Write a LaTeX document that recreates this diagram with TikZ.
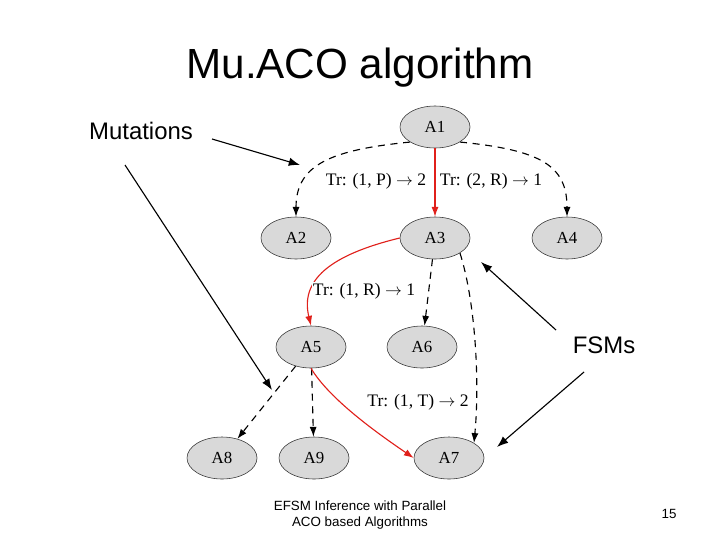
\documentclass[tikz,border=0pt]{standalone}
\usepackage{fontspec}
\setmainfont{Liberation Sans}
\newfontfamily\lserif{Liberation Serif}
\usetikzlibrary{shapes.geometric,arrows.meta}
\definecolor{ngray}{HTML}{D9D9D9}
\definecolor{nred}{HTML}{E0201B}
\begin{document}
\begin{tikzpicture}[x=0.025cm,y=-0.025cm,
  st/.style={ellipse,draw=black!80,fill=ngray,minimum width=1.75cm,minimum height=1.05cm,font=\lserif\fontsize{12}{14}\selectfont},
  e/.style={-{Latex[length=7pt,width=5pt]},thick,dashed,dash pattern=on 5pt off 4pt},
  r/.style={-{Latex[length=7pt,width=5pt]},thick,nred},
  lab/.style={font=\lserif\fontsize{12.5}{14}\selectfont,fill=white,inner sep=1pt},
  pt/.style={-{Latex[length=8pt,width=6pt]},thick}]
\useasboundingbox (0,0) rectangle (720,540);
\node (A1) at (435,127) [st] {A1};
\node (A2) at (296,238) [st] {A2};
\node (A3) at (435,238) [st] {A3};
\node (A4) at (567,238) [st] {A4};
\node (A5) at (311,347) [st] {A5};
\node (A6) at (422,347) [st] {A6};
\node (A7) at (449,458) [st] {A7};
\node (A8) at (222,458) [st] {A8};
\node (A9) at (314,458) [st] {A9};
\draw[e] (A1.south west) .. controls (330,150) and (296,165) .. (A2.north);
\draw[e] (A1.south east) .. controls (540,150) and (567,165) .. (A4.north);
\node[lab] (l1) at (376,181) {Tr: (1, P) $\rightarrow$ 2};
\node[lab] (l2) at (491,181) {Tr: (2, R) $\rightarrow$ 1};
\draw[r] (A1) -- (A3);
\draw[r] (A3.west) .. controls (330,255) and (300,280) .. (A5.north);
\node[lab] (l3) at (364,291) {Tr: (1, R) $\rightarrow$ 1};
\draw[e] (A3) -- (A6);
\draw[e] (A3.south east) .. controls (475,300) and (480,380) .. (A7.north east);
\draw[e] (A5) -- (A8);
\draw[e] (A5) -- (A9);
\draw[r] (A5.south) .. controls (330,400) and (380,435) .. (A7.west);
\node[lab,fill=none] (l4) at (418,402) {Tr: (1, T) $\rightarrow$ 2};
\node (T) at (360,68) {\fontsize{30}{34}\selectfont Mu.ACO algorithm};
\node (M) at (141,131) {\fontsize{17}{20}\selectfont Mutations};
\node (F) at (604,345) {\fontsize{17}{20}\selectfont FSMs};
\coordinate (m0) at (212,139);
\coordinate (m1) at (300,165);
\coordinate (m2) at (272,390);
\coordinate (f1) at (481,262);
\coordinate (f2) at (497,447);
\draw[pt] (m0) -- (m1);
\draw[pt] (125,165) -- (m2);
\draw[pt] (556,330) -- (f1);
\draw[pt] (584,372) -- (f2);
\node[align=center,font=\fontsize{9.5}{12}\selectfont] (foot) at (360,515) {EFSM Inference with Parallel\\ACO based Algorithms};
\node[font=\fontsize{9.5}{12}\selectfont] (pg) at (669,514) {15};
\end{tikzpicture}
\end{document}
